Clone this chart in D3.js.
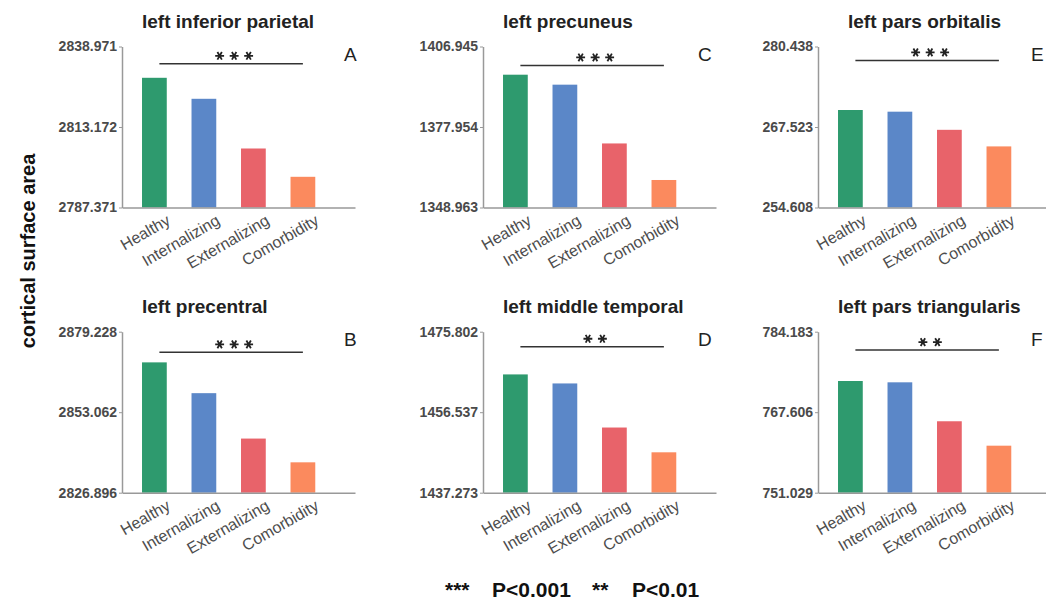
<!DOCTYPE html>
<html>
<head>
<meta charset="utf-8">
<script src="https://cdn.jsdelivr.net/npm/d3@7"></script>
<style>
  body { margin: 0; background: #fff; }
  svg { display: block; font-family: "Liberation Sans", Arial, sans-serif; }
</style>
</head>
<body>
<div class="chart"></div>
<script>
var svgWidth = 1046;
var svgHeight = 603;

// data
var groups = ["Healthy", "Internalizing", "Externalizing", "Comorbidity"];
var colors = ["#2e9a6e", "#5b87c8", "#e8636a", "#fb8a5e"];

var regions = ["left inferior parietal", "left precentral", "left precuneus",
  "left middle temporal", "left pars orbitalis", "left pars triangularis"];
var panelLetters = ["A", "B", "C", "D", "E", "F"];

var yTicks = [
  [2787.371, 2813.172, 2838.971],
  [2826.896, 2853.062, 2879.228],
  [1348.963, 1377.954, 1406.945],
  [1437.273, 1456.537, 1475.802],
  [254.608, 267.523, 280.438],
  [751.029, 767.606, 784.183]
];

var values = [
  [2828.94, 2822.21, 2806.28, 2797.21],
  [2869.26, 2859.25, 2844.49, 2836.77],
  [1396.79, 1393.20, 1372.03, 1358.87],
  [1465.58, 1463.42, 1452.87, 1446.94],
  [270.25, 269.98, 267.07, 264.41],
  [774.03, 773.76, 765.74, 760.71]
];

var sigLabels = ["***", "***", "***", "**", "***", "**"];
var sigLineValues = [2833.43, 2872.52, 1400.13, 1472.20, 278.21, 780.39];

// layout
var colX = [122, 483, 818];
var rowTop = [46.5, 331.7];
var letterX = [222, 215, 213];
var panelW = 233;
var panelH = 161;

var svg = d3.select(".chart")
  .append("svg")
  .attr("width", svgWidth)
  .attr("height", svgHeight);

var xScale = d3.scaleBand()
  .domain(groups)
  .range([0, panelW])
  .paddingInner(0.5)
  .paddingOuter(0.6035)
  .align(0.335);

var star = d3.symbol().type(d3.symbolAsterisk).size(55);

regions.forEach(function(region, i) {
  var col = Math.floor(i / 2);
  var row = i % 2;

  var g = svg.append("g")
    .attr("transform", `translate(${colX[col]}, ${rowTop[row]})`);

  var ticks = yTicks[i];
  var yScale = d3.scaleLinear()
    .domain([ticks[0], ticks[ticks.length - 1]])
    .range([panelH, 0]);

  // bars
  g.selectAll("rect")
    .data(values[i])
    .enter()
    .append("rect")
    .attr("x", (d, j) => xScale(groups[j]))
    .attr("width", xScale.bandwidth())
    .attr("y", d => yScale(d))
    .attr("height", d => panelH - yScale(d))
    .attr("fill", (d, j) => colors[j]);

  // y axis
  var yAxis = g.append("g")
    .attr("color", "#999")
    .call(d3.axisLeft(yScale)
      .tickValues(ticks)
      .tickFormat(d3.format(".3f"))
      .tickSize(3)
      .tickSizeOuter(0)
      .tickPadding(2));
  yAxis.select(".domain").attr("stroke-width", 1.5);
  yAxis.selectAll("text")
    .attr("font-family", "Liberation Sans, Arial, sans-serif")
    .attr("font-size", 14)
    .attr("font-weight", "bold")
    .attr("fill", "#4a4a4a");

  // x axis
  var xAxis = g.append("g")
    .attr("transform", `translate(0, ${panelH})`)
    .attr("color", "#999")
    .call(d3.axisBottom(xScale).tickSize(0).tickSizeOuter(0));
  xAxis.select(".domain").attr("stroke-width", 1.5);
  xAxis.selectAll("text")
    .attr("y", 0)
    .attr("dy", null)
    .attr("transform", "translate(17, 16) rotate(-30)")
    .style("text-anchor", "end")
    .attr("font-family", "Liberation Sans, Arial, sans-serif")
    .attr("font-size", 16)
    .attr("fill", "#4d4d4d");

  // title
  g.append("text")
    .attr("x", xScale(groups[0]) + (i == 4 ? 10 : 0))
    .attr("y", -18.5)
    .attr("font-size", 19)
    .attr("font-weight", "bold")
    .attr("fill", "#222")
    .text(region);

  // panel letter
  g.append("text")
    .attr("x", letterX[col])
    .attr("y", 14.5)
    .attr("font-size", 19)
    .attr("fill", "#222")
    .text(panelLetters[i]);

  // significance line
  var x1 = xScale(groups[0]) + xScale.bandwidth() / 2 + 5;
  var x2 = xScale(groups[groups.length - 1]) + xScale.bandwidth() / 2;
  var ly = yScale(sigLineValues[i]);
  g.append("line")
    .attr("x1", x1)
    .attr("x2", x2)
    .attr("y1", ly)
    .attr("y2", ly)
    .attr("stroke", "#333")
    .attr("stroke-width", 1.5);

  var nStars = sigLabels[i].length;
  var mid = (x1 + x2) / 2 + 3;
  g.selectAll(".star")
    .data(d3.range(nStars))
    .enter()
    .append("path")
    .attr("class", "star")
    .attr("d", star)
    .attr("transform", k => `translate(${mid + (k - (nStars - 1) / 2) * 14.5}, ${ly - 8}) rotate(90)`)
    .attr("fill", "none")
    .attr("stroke", "#222")
    .attr("stroke-width", 1.8);
});

// shared y label
svg.append("text")
  .attr("transform", "translate(35, 251) rotate(-90)")
  .attr("text-anchor", "middle")
  .attr("font-size", 20)
  .attr("font-weight", "bold")
  .attr("fill", "#111")
  .text("cortical surface area");

// legend
var legendItems = [
  { text: "***", x: 445 },
  { text: "P<0.001", x: 492 },
  { text: "**", x: 592 },
  { text: "P<0.01", x: 632 }
];
svg.selectAll(".legend")
  .data(legendItems)
  .enter()
  .append("text")
  .attr("class", "legend")
  .attr("x", d => d.x)
  .attr("y", 597)
  .attr("font-size", 21)
  .attr("font-weight", "bold")
  .attr("fill", "#111")
  .text(d => d.text);
</script>
</body>
</html>
